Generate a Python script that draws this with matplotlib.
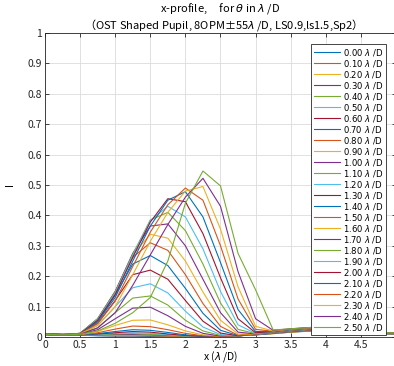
import matplotlib
matplotlib.use("Agg")
import matplotlib.pyplot as plt
import numpy as np

plt.rcParams['font.family'] = ['Noto Sans CJK JP', 'DejaVu Sans']
plt.rcParams['mathtext.fontset'] = 'dejavusans'

# sample positions along x, in lambda/D
x_pos = [0, 0.25, 0.5, 0.75, 1.0, 1.25, 1.5, 1.75, 2.0, 2.25, 2.5,
         2.75, 3.0, 3.25, 3.5, 3.75, 4.0, 4.25, 4.5, 4.75, 5.0]

# off-axis source positions theta (lambda/D)
thetas = [0.0, 0.1, 0.2, 0.3, 0.4, 0.5, 0.6, 0.7, 0.8, 0.9, 1.0, 1.1, 1.2,
          1.3, 1.4, 1.5, 1.6, 1.7, 1.8, 1.9, 2.0, 2.1, 2.2, 2.3, 2.4, 2.5]

# intensity profiles, one row per theta
profiles = [
    [0.010, 0.008, 0.006, 0.004, 0.003, 0.003, 0.002, 0.002, 0.001, 0.001, 0.002, 0.004, 0.008, 0.012, 0.016, 0.019, 0.020, 0.018, 0.014, 0.011, 0.012],
    [0.011, 0.009, 0.006, 0.005, 0.004, 0.004, 0.004, 0.003, 0.002, 0.001, 0.002, 0.004, 0.007, 0.011, 0.016, 0.020, 0.021, 0.019, 0.015, 0.011, 0.011],
    [0.011, 0.010, 0.007, 0.006, 0.006, 0.006, 0.005, 0.004, 0.002, 0.001, 0.002, 0.004, 0.007, 0.011, 0.016, 0.020, 0.022, 0.020, 0.015, 0.011, 0.010],
    [0.010, 0.009, 0.007, 0.007, 0.008, 0.008, 0.007, 0.005, 0.003, 0.002, 0.002, 0.004, 0.007, 0.012, 0.017, 0.021, 0.023, 0.020, 0.015, 0.011, 0.010],
    [0.009, 0.008, 0.007, 0.008, 0.010, 0.011, 0.009, 0.006, 0.003, 0.002, 0.002, 0.004, 0.008, 0.012, 0.017, 0.021, 0.023, 0.021, 0.016, 0.011, 0.010],
    [0.008, 0.007, 0.007, 0.009, 0.012, 0.014, 0.012, 0.008, 0.004, 0.002, 0.002, 0.004, 0.008, 0.012, 0.018, 0.022, 0.024, 0.021, 0.016, 0.011, 0.010],
    [0.008, 0.006, 0.007, 0.010, 0.014, 0.018, 0.016, 0.010, 0.005, 0.002, 0.002, 0.004, 0.008, 0.013, 0.018, 0.022, 0.024, 0.022, 0.016, 0.012, 0.011],
    [0.007, 0.006, 0.007, 0.011, 0.018, 0.024, 0.022, 0.015, 0.007, 0.003, 0.002, 0.004, 0.008, 0.013, 0.019, 0.023, 0.025, 0.022, 0.017, 0.012, 0.011],
    [0.007, 0.006, 0.008, 0.014, 0.026, 0.036, 0.034, 0.024, 0.012, 0.004, 0.002, 0.004, 0.009, 0.014, 0.019, 0.023, 0.025, 0.022, 0.017, 0.012, 0.011],
    [0.008, 0.006, 0.008, 0.018, 0.038, 0.055, 0.056, 0.040, 0.020, 0.007, 0.003, 0.004, 0.009, 0.014, 0.020, 0.024, 0.026, 0.023, 0.017, 0.012, 0.011],
    [0.008, 0.006, 0.009, 0.024, 0.060, 0.095, 0.098, 0.070, 0.035, 0.012, 0.003, 0.004, 0.009, 0.014, 0.020, 0.024, 0.026, 0.023, 0.018, 0.012, 0.011],
    [0.009, 0.007, 0.010, 0.030, 0.080, 0.128, 0.135, 0.105, 0.055, 0.020, 0.005, 0.004, 0.009, 0.015, 0.021, 0.025, 0.027, 0.024, 0.018, 0.013, 0.011],
    [0.009, 0.007, 0.010, 0.038, 0.100, 0.162, 0.175, 0.145, 0.085, 0.033, 0.008, 0.004, 0.009, 0.015, 0.021, 0.025, 0.027, 0.024, 0.018, 0.013, 0.012],
    [0.010, 0.008, 0.011, 0.045, 0.120, 0.205, 0.220, 0.190, 0.120, 0.052, 0.013, 0.004, 0.010, 0.016, 0.022, 0.026, 0.028, 0.025, 0.019, 0.013, 0.012],
    [0.010, 0.008, 0.012, 0.052, 0.138, 0.240, 0.268, 0.235, 0.160, 0.078, 0.022, 0.005, 0.010, 0.016, 0.022, 0.026, 0.028, 0.025, 0.019, 0.013, 0.012],
    [0.010, 0.008, 0.012, 0.058, 0.148, 0.262, 0.310, 0.285, 0.205, 0.110, 0.035, 0.006, 0.010, 0.016, 0.022, 0.027, 0.029, 0.025, 0.019, 0.013, 0.012],
    [0.009, 0.008, 0.012, 0.060, 0.150, 0.270, 0.338, 0.325, 0.250, 0.148, 0.055, 0.010, 0.010, 0.017, 0.023, 0.027, 0.029, 0.026, 0.020, 0.014, 0.012],
    [0.009, 0.008, 0.012, 0.060, 0.150, 0.275, 0.365, 0.372, 0.300, 0.190, 0.080, 0.016, 0.010, 0.017, 0.023, 0.027, 0.029, 0.026, 0.020, 0.014, 0.012],
    [0.009, 0.007, 0.012, 0.060, 0.148, 0.272, 0.385, 0.410, 0.350, 0.240, 0.112, 0.025, 0.011, 0.017, 0.024, 0.028, 0.030, 0.026, 0.020, 0.014, 0.012],
    [0.009, 0.007, 0.011, 0.058, 0.145, 0.268, 0.383, 0.430, 0.395, 0.290, 0.150, 0.040, 0.012, 0.018, 0.024, 0.028, 0.030, 0.027, 0.020, 0.014, 0.012],
    [0.009, 0.007, 0.011, 0.055, 0.140, 0.262, 0.378, 0.455, 0.445, 0.340, 0.195, 0.060, 0.014, 0.018, 0.025, 0.029, 0.031, 0.027, 0.021, 0.015, 0.013],
    [0.009, 0.007, 0.010, 0.050, 0.130, 0.250, 0.365, 0.450, 0.478, 0.395, 0.245, 0.090, 0.018, 0.018, 0.025, 0.029, 0.031, 0.027, 0.021, 0.015, 0.013],
    [0.009, 0.007, 0.010, 0.044, 0.118, 0.232, 0.345, 0.435, 0.490, 0.450, 0.300, 0.125, 0.025, 0.019, 0.026, 0.030, 0.032, 0.028, 0.021, 0.015, 0.013],
    [0.009, 0.007, 0.010, 0.038, 0.100, 0.205, 0.315, 0.410, 0.480, 0.495, 0.355, 0.165, 0.035, 0.020, 0.026, 0.030, 0.032, 0.028, 0.021, 0.015, 0.013],
    [0.009, 0.007, 0.009, 0.030, 0.080, 0.170, 0.270, 0.370, 0.460, 0.522, 0.430, 0.215, 0.060, 0.022, 0.027, 0.031, 0.033, 0.029, 0.022, 0.016, 0.013],
    [0.009, 0.007, 0.009, 0.020, 0.045, 0.080, 0.130, 0.250, 0.440, 0.546, 0.497, 0.275, 0.155, 0.023, 0.027, 0.031, 0.033, 0.029, 0.022, 0.016, 0.013],
]

# MATLAB default line colour order
line_colors = ['#0072BD', '#D95319', '#EDB120', '#7E2F8E',
               '#77AC30', '#4DBEEE', '#A2142F']

x_ticks = [0, 0.5, 1, 1.5, 2, 2.5, 3, 3.5, 4, 4.5]
x_tick_labels = ['0', '0.5', '1', '1.5', '2', '2.5', '3', '3.5', '4', '4.5']
y_ticks = [0, 0.1, 0.2, 0.3, 0.4, 0.5, 0.6, 0.7, 0.8, 0.9, 1]
y_tick_labels = ['0', '0.1', '0.2', '0.3', '0.4', '0.5', '0.6', '0.7', '0.8', '0.9', '1']

fig = plt.figure(figsize=(3.94, 3.66), dpi=100)
ax = fig.add_axes([45 / 394, 29 / 366, 351 / 394, 304 / 366])

for i, (th, prof) in enumerate(zip(thetas, profiles)):
    ax.plot(x_pos, prof, color=line_colors[i % 7], lw=0.8,
            label=f'{th:.2f} $\\lambda$ /D')

ax.set_xlim(0, 5)
ax.set_ylim(0, 1)
ax.set_xticks(x_ticks)
ax.set_xticklabels(x_tick_labels)
ax.set_yticks(y_ticks)
ax.set_yticklabels(y_tick_labels)
ax.tick_params(direction='in', length=3, width=0.6, labelsize=7.5,
               colors='#262626', top=True, right=True, pad=2)
ax.grid(True, color='#dcdcdc', lw=0.6)
ax.set_axisbelow(True)
for s in ax.spines.values():
    s.set_color('#262626')
    s.set_linewidth(0.6)

ax.set_xlabel('x ($\\lambda$ /D)', fontsize=7.5)
ax.xaxis.label.set_va('center')
ax.xaxis.set_label_coords(0.5, -0.064)
ax.set_ylabel('I', fontsize=7.5)
ax.yaxis.set_label_coords(-0.085, 0.5)
ax.set_title('x-profile,     for $\\theta$ in $\\lambda$ /D\n'
             '（OST Shaped Pupil, 8OPM±55$\\lambda$ /D, LS0.9,ls1.5,Sp2）',
             fontsize=8, pad=3, linespacing=1.15)

leg = ax.legend(loc='upper left', bbox_to_anchor=((311 - 45) / 351, (337 - 44) / 304),
                prop={'family': 'DejaVu Sans', 'size': 6.1},
                labelspacing=0.0, handlelength=3.1,
                handletextpad=0.35, borderpad=0.3, borderaxespad=0,
                fancybox=False, framealpha=1, edgecolor='#262626')
leg.get_frame().set_linewidth(0.6)

fig.savefig('out.png', dpi=100)
